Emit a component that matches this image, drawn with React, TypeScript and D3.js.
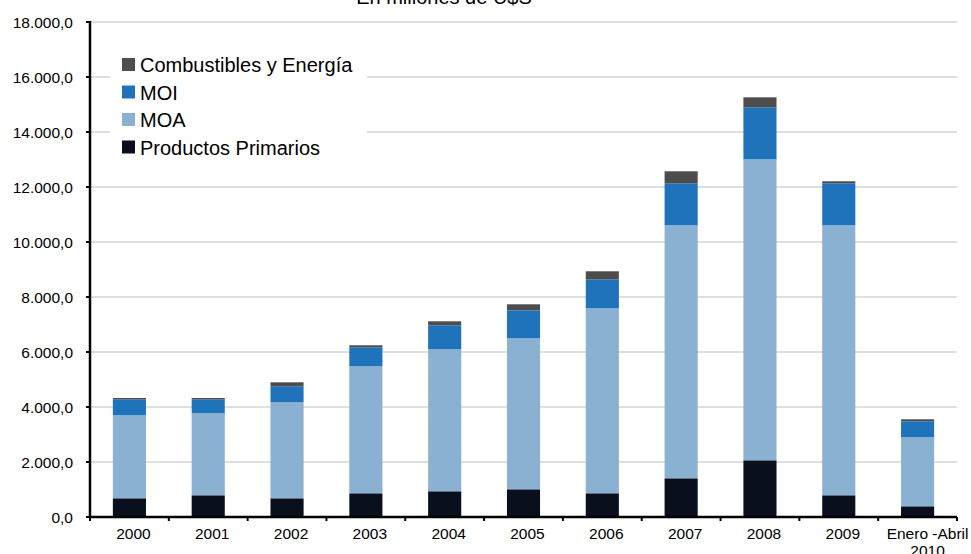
import React from "react";
import * as d3 from "d3";

const categories = ["2000", "2001", "2002", "2003", "2004", "2005", "2006", "2007", "2008", "2009", "Enero -Abril\n2010"];
const productosPrimarios = [680, 789, 680, 862, 935, 1007, 862, 1407, 2062, 789, 389];
const moa = [3018, 2982, 3491, 4618, 5163, 5491, 6727, 9200, 10945, 9818, 2509];
const moi = [582, 509, 582, 691, 873, 1018, 1055, 1528, 1891, 1528, 582];
const combustibles = [47, 47, 145, 73, 145, 219, 291, 436, 364, 73, 73];
const yTicks = [0, 2000, 4000, 6000, 8000, 10000, 12000, 14000, 16000, 18000];

const seriesNames = ["Productos Primarios", "MOA", "MOI", "Combustibles y Energía"];
const colors = ["#0a0f1e", "#8ab0d2", "#1f73bb", "#4d4d4d"];

export default function App() {
  const W = 971, H = 554;
  const left = 90, right = 957, top = 22, bottom = 517;
  const x = d3.scaleBand().domain(categories).range([left, right]).paddingInner(0.58).paddingOuter(0.29);
  const y = d3.scaleLinear().domain([0, 18000]).range([bottom, top]);
  const rows = categories.map((c, i) => ({
    cat: c,
    s0: productosPrimarios[i], s1: moa[i], s2: moi[i], s3: combustibles[i],
  }));
  const stack = d3.stack<any>().keys(["s0", "s1", "s2", "s3"])(rows);
  const fmt = (v: number) => {
    const s = d3.format(",.1f")(v);
    return s.replace(/,/g, "#").replace(/\./g, ",").replace(/#/g, ".");
  };
  const step = (right - left) / categories.length;
  const legendOrder = [3, 2, 1, 0];
  return (
    <svg width={W} height={H} style={{ position: "absolute", left: 0, top: 0, background: "#fff" }}
      fontFamily="'Liberation Sans', Arial, sans-serif">
      <text x={444} y={4} textAnchor="middle" fontSize={20} fill="#000">En millones de U$S</text>
      {yTicks.map((t) => (
        <g key={t}>
          {t > 0 && <line x1={left} x2={right} y1={y(t)} y2={y(t)} stroke="#d4d4d4" strokeWidth={1.5} />}
          <line x1={left - 4} x2={left} y1={y(t)} y2={y(t)} stroke="#000" strokeWidth={2} />
          <text x={73} y={y(t) + 5.5} textAnchor="end" fontSize={15.5} fill="#000">{fmt(t)}</text>
        </g>
      ))}
      {stack.map((layer, li) => (
        <g key={li} fill={colors[li]}>
          {layer.map((d: any, i: number) => (
            <rect key={i} x={x(categories[i])} width={x.bandwidth()} y={y(d[1])} height={y(d[0]) - y(d[1])} />
          ))}
        </g>
      ))}
      <line x1={left} x2={left} y1={top - 1} y2={bottom + 1} stroke="#000" strokeWidth={2.5} />
      <line x1={left - 1} x2={right} y1={bottom} y2={bottom} stroke="#000" strokeWidth={2.5} />
      {d3.range(categories.length + 1).map((i) => (
        <line key={i} x1={left + i * step} x2={left + i * step} y1={bottom} y2={bottom + 4} stroke="#000" strokeWidth={2} />
      ))}
      {categories.map((c, i) => {
        const cx = (x(c) as number) + x.bandwidth() / 2 + (i === categories.length - 1 ? 10 : 4);
        const lines = c.split("\n");
        return (
          <text key={c} x={cx} y={539} textAnchor="middle" fontSize={15.5} fill="#000">
            {lines.map((l, j) => (
              <tspan key={j} x={cx} dy={j === 0 ? 0 : 17}>{l}</tspan>
            ))}
          </text>
        );
      })}
      <rect x={110} y={50} width={257} height={110} fill="#fff" />
      {legendOrder.map((si, k) => (
        <g key={si}>
          <rect x={122} y={58 + k * 27.5} width={13} height={13} fill={colors[si]} />
          <text x={140} y={72 + k * 27.5} fontSize={20} fill="#000">{seriesNames[si]}</text>
        </g>
      ))}
    </svg>
  );
}
